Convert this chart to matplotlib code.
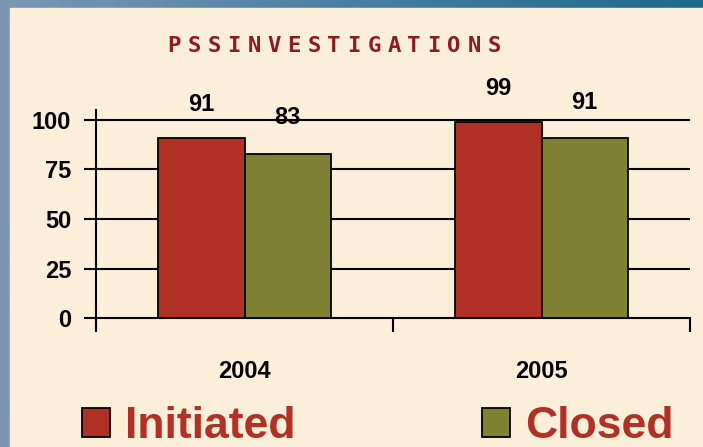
import numpy as np
import matplotlib.pyplot as plt
from matplotlib.patches import Rectangle
from matplotlib.colors import LinearSegmentedColormap

years = ['2004', '2005']
initiated = [91, 99]
closed = [83, 91]
series_names = ['Initiated', 'Closed']
title = 'PSSINVESTIGATIONS'

red = '#b03226'
green = '#7f8233'
cream = '#fcefd9'

font = ['Liberation Sans Narrow', 'Liberation Sans', 'DejaVu Sans']

fig = plt.figure(figsize=(7.03, 4.47), dpi=100)

# blue frame behind the cream panel
bg = fig.add_axes([0, 0, 1, 1])
grad = np.linspace(0, 1, 256).reshape(1, -1)
bg.imshow(grad, aspect='auto', extent=[0, 1, 0, 1],
          cmap=LinearSegmentedColormap.from_list('b', ['#7d97b3', '#4a7fa3', '#1c6a8b']))
bg.add_patch(Rectangle((10 / 703, 0), 1, 1 - 8 / 447, color=cream, transform=bg.transAxes))
bg.set_xlim(0, 1)
bg.set_ylim(0, 1)
bg.axis('off')

ax = fig.add_axes([96 / 703, 1 - 330 / 447, (690 - 96) / 703, 220 / 447])
ax.set_facecolor('none')

x = np.arange(len(years))
w = 0.29
b1 = ax.bar(x - w / 2, initiated, w, color=red, edgecolor='black', linewidth=1.3, zorder=3, label=series_names[0])
b2 = ax.bar(x + w / 2, closed, w, color=green, edgecolor='black', linewidth=1.3, zorder=3, label=series_names[1])

for xi, v in zip(x - w / 2, initiated):
    ax.text(xi, v + 17, str(v), ha='center', va='center', fontsize=17, fontweight='bold', family=font, zorder=4)
for xi, v in zip(x + w / 2, closed):
    ax.text(xi, v + 18, str(v), ha='center', va='center', fontsize=17, fontweight='bold', family=font, zorder=4)

ax.set_xlim(-0.5, 1.5)
ax.set_ylim(-6, 105)
ax.set_yticks([0, 25, 50, 75, 100])
for y in [25, 50, 75, 100]:
    ax.axhline(y, color='black', linewidth=1.5, zorder=1)

ax.spines['top'].set_visible(False)
ax.spines['right'].set_visible(False)
ax.spines['bottom'].set_position(('data', 0))
ax.spines['bottom'].set_linewidth(1.5)
ax.spines['left'].set_linewidth(1.5)

ax.set_xticks([-0.5, 0.5, 1.5])
ax.set_xticklabels([])
ax.set_xticks(x, minor=True)
ax.set_xticklabels(years, minor=True)
ax.tick_params(axis='x', which='major', direction='out', length=10, width=1.5)
ax.tick_params(axis='x', which='minor', length=0, pad=30, labelsize=17)
ax.tick_params(axis='y', direction='out', length=9, width=1.5, labelsize=17, pad=9)
for lab in ax.get_yticklabels() + ax.get_xticklabels(minor=True):
    lab.set_fontweight('bold')
    lab.set_family(font)

# spaced blocky title
x0, dx = 174 / 703, 20 / 703
for i, ch in enumerate(title):
    fig.text(x0 + i * dx, 1 - 46 / 447, ch, ha='center', va='center', color='#8e1b1e',
             fontsize=16, fontweight='bold', family='DejaVu Sans Mono')

leg = ax.legend(handles=[b1, b2], loc='lower left', bbox_to_anchor=(82 / 703, 0),
                bbox_transform=fig.transFigure, ncol=2, frameon=False,
                prop={'family': font, 'weight': 'bold', 'size': 32},
                handlelength=0.63, handleheight=0.63, handletextpad=0.34,
                columnspacing=4.2, borderpad=0, borderaxespad=0)
for t in leg.get_texts():
    t.set_color(red)

fig.savefig('out.png', dpi=100)
